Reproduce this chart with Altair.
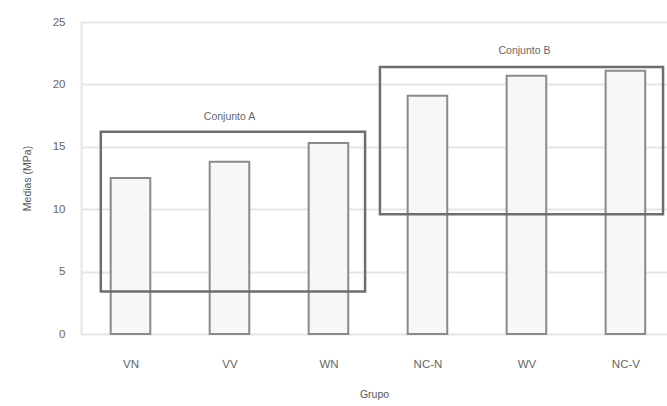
import altair as alt
import pandas as pd

grupos = ["VN", "VV", "WN", "NC-N", "WV", "NC-V"]
medias = [12.5, 13.8, 15.3, 19.1, 20.7, 21.1]

conjuntos = ["Conjunto A", "Conjunto B"]
box_x0 = [-0.3, 2.52]
box_x1 = [2.37, 5.38]
box_y0 = [3.4, 9.6]
box_y1 = [16.2, 21.4]
label_x = [1.0, 3.98]
label_y = [17.4, 22.7]

idx = list(range(len(grupos)))
bars = pd.DataFrame({
    "i": idx,
    "x0": [i - 0.2 for i in idx],
    "x1": [i + 0.2 for i in idx],
    "grupo": grupos,
    "media": medias,
})
boxes = pd.DataFrame({"c": conjuntos, "x0": box_x0, "x1": box_x1,
                      "y0": box_y0, "y1": box_y1, "lx": label_x, "ly": label_y})

font = "Liberation Sans"
label_expr = "[" + ",".join(f"'{g}'" for g in grupos) + "][round(datum.value)]"

xscale = alt.Scale(domain=[-0.5, 5.42], nice=False, zero=False)
yscale = alt.Scale(domain=[0, 25], nice=False)

base_bars = alt.Chart(bars).mark_rect(
    fill="#f7f7f7", stroke="#8a8a8a", strokeWidth=2
).encode(
    x=alt.X("x0:Q", scale=xscale, title="Grupo",
            axis=alt.Axis(values=idx, labelExpr=label_expr, grid=False,
                          ticks=False, domain=False, labelPadding=24,
                          titlePadding=20)),
    x2="x1:Q",
    y=alt.Y("media:Q", scale=yscale, title="Medias (MPa)",
            axis=alt.Axis(values=[0, 5, 10, 15, 20, 25], grid=True,
                          ticks=False, domain=True, labelPadding=16,
                          titlePadding=20)),
    y2=alt.datum(0),
)

rects = alt.Chart(boxes).mark_rect(
    fill=None, stroke="#6e6e6e", strokeWidth=2.5
).encode(
    x=alt.X("x0:Q", scale=xscale),
    x2="x1:Q",
    y=alt.Y("y0:Q", scale=yscale),
    y2="y1:Q",
)

texts = alt.Chart(boxes).mark_text(
    font=font, fontSize=10.5, color="#666666"
).encode(
    x=alt.X("lx:Q", scale=xscale),
    y=alt.Y("ly:Q", scale=yscale),
    text="c:N",
)

chart = alt.layer(base_bars, rects, texts).properties(
    width=586, height=312,
    autosize=alt.AutoSizeParams(type="none"),
    padding={"left": 81, "top": 22, "right": 0, "bottom": 72},
).configure_view(stroke=None).configure_axis(
    labelFont=font, titleFont=font, labelFontSize=11.5, titleFontSize=10.5,
    labelColor="#666666", titleColor="#555555", titleFontWeight="normal",
    gridColor="#e6e6e6", domainColor="#e6e6e6", gridWidth=2, domainWidth=2,
)

chart.save("out.html", embed_options={"renderer": "svg", "actions": False})
